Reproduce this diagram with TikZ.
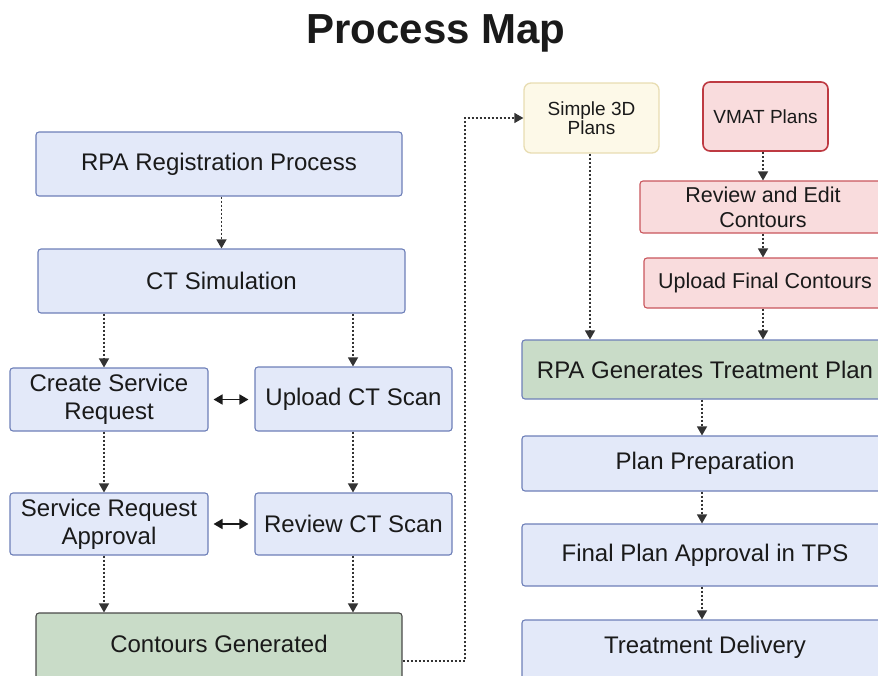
\documentclass[tikz,border=0pt]{standalone}
\usepackage{fontspec}
\setmainfont{Liberation Sans}
\usetikzlibrary{arrows.meta,calc}

\definecolor{bfill}{HTML}{E3E9F9}
\definecolor{bdraw}{HTML}{6D7FB8}
\definecolor{gfill}{HTML}{C9DCC8}
\definecolor{gdraw}{HTML}{4A4A4A}
\definecolor{pfill}{HTML}{F9DCDD}
\definecolor{pdraw}{HTML}{C9565C}
\definecolor{rdraw}{HTML}{BE3A42}
\definecolor{yfill}{HTML}{FDF9E8}
\definecolor{ydraw}{HTML}{E8DDB2}
\definecolor{linecol}{HTML}{333333}
\definecolor{textcol}{HTML}{1A1A1A}

\newcommand\fsz[2]{\fontsize{#1}{#2}\selectfont}

\tikzset{
  box/.style={rectangle, rounded corners=3pt, line width=1.1pt, align=center,
    inner sep=0pt, text=textcol, font=\fsz{24}{28}},
  bluebox/.style={box, fill=bfill, draw=bdraw},
  greenbox/.style={box, fill=gfill, draw=gdraw},
  pinkbox/.style={box, fill=pfill, draw=pdraw, font=\fsz{21.5}{25}},
  yellowbox/.style={box, fill=yfill, draw=ydraw, line width=1.3pt, rounded corners=7pt, font=\fsz{19}{19}},
  redbox/.style={box, fill=pfill, draw=rdraw, line width=1.6pt, rounded corners=7pt, font=\fsz{19}{22}},
  flow/.style={draw=linecol, line width=1.3pt, dash pattern=on 2pt off 2pt,
    -{Triangle[width=10pt,length=9pt]}},
  both/.style={draw=textcol, line width=1.7pt,
    {Triangle[width=10pt,length=9pt]}-{Triangle[width=10pt,length=9pt]}},
  sz/.style n args={2}{minimum width=#1pt, minimum height=#2pt}
}

\begin{document}
\begin{tikzpicture}[x=1pt,y=-1pt]
\useasboundingbox (0,0) rectangle (878,675);
\clip (0,0) rectangle (878,675);

% heading
\node[font=\bfseries\fsz{42}{46}, text=textcol] (title) at (436,33) {Process Map};

% left column
\node[bluebox, sz={366}{64}] (reg) at (219,164) {RPA Registration Process};
\node[bluebox, sz={367}{64}] (ctsim) at (221.5,281) {CT Simulation};
\node[bluebox, sz={198}{63}] (create) at (109,399.5) {Create Service\\Request};
\node[bluebox, sz={197}{64}] (upload) at (353.5,399) {Upload CT Scan};
\node[bluebox, sz={198}{62}] (approval) at (109,524) {Service Request\\Approval};
\node[bluebox, sz={197}{62}] (review) at (353.5,524) {Review CT Scan};
\node[greenbox, sz={366}{76}] (contours) at (219,651) {};
\node[font=\fsz{24}{28}, text=textcol] (contourstext) at (219,644) {Contours Generated};

% right column
\node[yellowbox, sz={135}{70}] (simple) at (591.5,118) {Simple 3D\\Plans};
\node[redbox, sz={125}{69}] (vmat) at (765.5,116.5) {VMAT Plans};
\node[pinkbox, sz={246}{52}] (editc) at (763,207) {Review and Edit\\Contours};
\node[pinkbox, sz={242}{50}] (finalc) at (765,283) {Upload Final Contours};
\node[box, fill=gfill, draw=bdraw, sz={366}{59}] (rpagen) at (705,369.5) {RPA Generates Treatment Plan};
\node[bluebox, sz={366}{55}] (prep) at (705,463.5) {Plan Preparation};
\node[bluebox, sz={366}{62}] (tps) at (705,555) {Final Plan Approval in TPS};
\node[bluebox, sz={366}{66}] (deliv) at (705,653) {};
\node[font=\fsz{24}{28}, text=textcol] (delivtext) at (705,647) {Treatment Delivery};

% column guides for the vertical connectors
\coordinate (lx) at (104,0);
\coordinate (rx) at (353,0);
\coordinate (sx) at (590,0);
\coordinate (vx) at (763,0);
\coordinate (px) at (702,0);
\coordinate (bend) at (465,661);

% connectors, left side
\draw[flow] (reg.south -| ctsim.north) -- (ctsim.north);
\draw[flow] (ctsim.south -| lx) -- (create.north -| lx);
\draw[flow] (ctsim.south -| rx) -- (upload.north -| rx);
\draw[flow] (create.south -| lx) -- (approval.north -| lx);
\draw[flow] (upload.south -| rx) -- (review.north -| rx);
\draw[flow] (approval.south -| lx) -- (contours.north -| lx);
\draw[flow] (review.south -| rx) -- (contours.north -| rx);
\draw[both] ([xshift=5pt]create.east) -- ([xshift=-6pt]upload.west |- create.east);
\draw[both] ([xshift=5pt]approval.east) -- ([xshift=-6pt]review.west |- approval.east);

% link to the planning branch
\draw[flow] (bend -| contours.east) -- (bend) |- (simple.west);

% connectors, right side
\draw[flow] (simple.south -| sx) -- (rpagen.north -| sx);
\draw[flow] (vmat.south -| vx) -- (editc.north -| vx);
\draw[flow] (editc.south -| vx) -- (finalc.north -| vx);
\draw[flow] (finalc.south -| vx) -- (rpagen.north -| vx);
\draw[flow] (rpagen.south -| px) -- (prep.north -| px);
\draw[flow] (prep.south -| px) -- (tps.north -| px);
\draw[flow] (tps.south -| px) -- (deliv.north -| px);
\end{tikzpicture}
\end{document}
